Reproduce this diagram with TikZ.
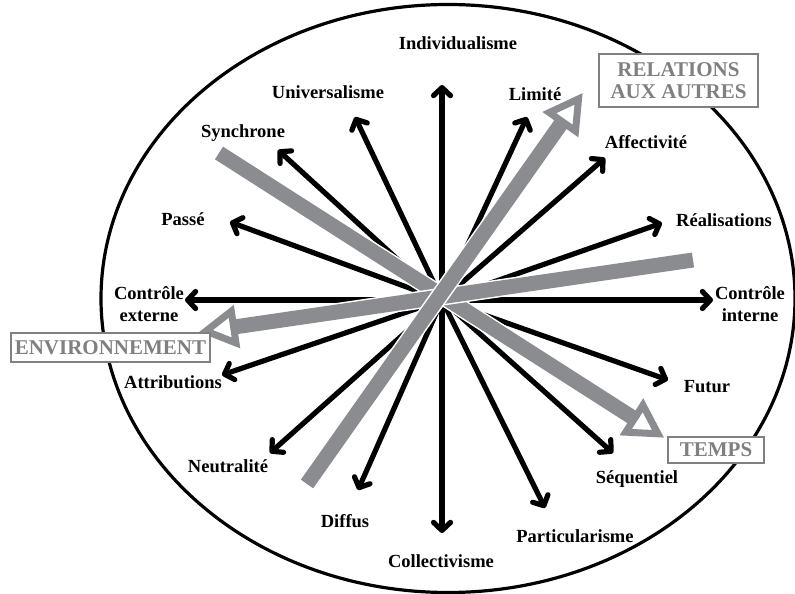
\documentclass[tikz,border=0pt]{standalone}
\usepackage{fontspec}
\setmainfont{Liberation Serif}
\usetikzlibrary{arrows.meta,calc}
\definecolor{bargray}{RGB}{139,140,144}
\definecolor{boxgray}{RGB}{128,128,130}
\begin{document}
\begin{tikzpicture}[x=1pt,y=-1pt,
  lbl/.style={font=\bfseries\fontsize{18.5}{22}\selectfont, inner sep=0pt, align=center},
  gbox/.style={draw=boxgray, line width=1.4pt, fill=white, text=boxgray,
    font=\bfseries\fontsize{21}{22}\selectfont, align=center, inner sep=0pt},
  spoke/.style={line width=5.2pt, -{Straight Barb[length=8pt,width=17pt,round]}},
  bar/.style={draw=bargray, line width=15pt, line cap=butt,
    preaction={draw=white, line width=18pt}},
  grayhead/.style={draw=bargray, line width=7pt, line join=miter, fill=white}
]
\useasboundingbox (0,0) rectangle (795,594);
\fill[white] (0,0) rectangle (795,594);

% ellipse
\draw[line width=3.2pt] (448,298.5) ellipse [x radius=347pt, y radius=294pt];

% centre and tips
\coordinate (c) at (442,300);
\coordinate (tInd) at (442,85);
\coordinate (tCol) at (442,533);
\coordinate (tCe) at (185,300);
\coordinate (tCi) at (713,300);
\coordinate (tUni) at (355,117);
\coordinate (tPar) at (545,508);
\coordinate (tSyn) at (278,150);
\coordinate (tSeq) at (613,453);
\coordinate (tPas) at (230,222);
\coordinate (tFut) at (668,380);
\coordinate (tLim) at (527,117);
\coordinate (tDif) at (358,490);
\coordinate (tAff) at (605,158);
\coordinate (tNeu) at (270,453);
\coordinate (tRea) at (662,223);
\coordinate (tAtt) at (222,375);

\foreach \t in {tInd,tCol,tCe,tCi,tUni,tPar,tSyn,tSeq,tPas,tFut,tLim,tDif,tAff,tNeu,tRea,tAtt}
  \draw[spoke] (c) -- (\t);

% grey bars with open triangular heads
\coordinate (gSyn) at (219,153);
\coordinate (gTemps) at (663,437);
\coordinate (gRea) at (693,260);
\coordinate (gEnv) at (200,332);
\coordinate (gNeu) at (307,484);
\coordinate (gRel) at (582,94);
\foreach \s/\t in {gSyn/gTemps, gRea/gEnv, gNeu/gRel}{
  \coordinate (hp) at ($(\t)!6pt!(\s)$);
  \coordinate (hb) at ($(\t)!34pt!(\s)$);
  \draw[bar] (\s) -- (hb);
  \draw[grayhead] ($(hb)!16pt!90:(\t)$) -- (hp) -- ($(hb)!16pt!-90:(\t)$) -- cycle;
}

% boxes
\node[gbox, minimum width=159pt, minimum height=53pt] (rel) at (678.5,80.5) {RELATIONS\\AUX AUTRES};
\node[gbox, minimum width=199pt, minimum height=29pt] (env) at (110.5,347.5) {ENVIRONNEMENT};
\node[gbox, minimum width=96pt, minimum height=26pt] (temps) at (716,450) {TEMPS};

% labels
\node[lbl, anchor=base] (ind) at (458,50) {Individualisme};
\node[lbl, anchor=base] (uni) at (328,99) {Universalisme};
\node[lbl, anchor=base] (syn) at (243,137) {Synchrone};
\node[lbl, anchor=base] (pas) at (183,225) {Passé};
\node[lbl] (ce) at (149,304) {Contrôle\\externe};
\node[lbl, anchor=base] (att) at (173,388) {Attributions};
\node[lbl, anchor=base] (neu) at (228,472) {Neutralité};
\node[lbl, anchor=base] (dif) at (345,527) {Diffus};
\node[lbl, anchor=base] (col) at (441,567) {Collectivisme};
\node[lbl, anchor=base] (par) at (575,542) {Particularisme};
\node[lbl, anchor=base] (seq) at (637,483) {Séquentiel};
\node[lbl, anchor=base] (fut) at (707,392) {Futur};
\node[lbl] (ci) at (750,304) {Contrôle\\interne};
\node[lbl, anchor=base] (rea) at (724,226) {Réalisations};
\node[lbl, anchor=base] (aff) at (646,148) {Affectivité};
\node[lbl, anchor=base] (lim) at (535,100) {Limité};
\end{tikzpicture}
\end{document}
